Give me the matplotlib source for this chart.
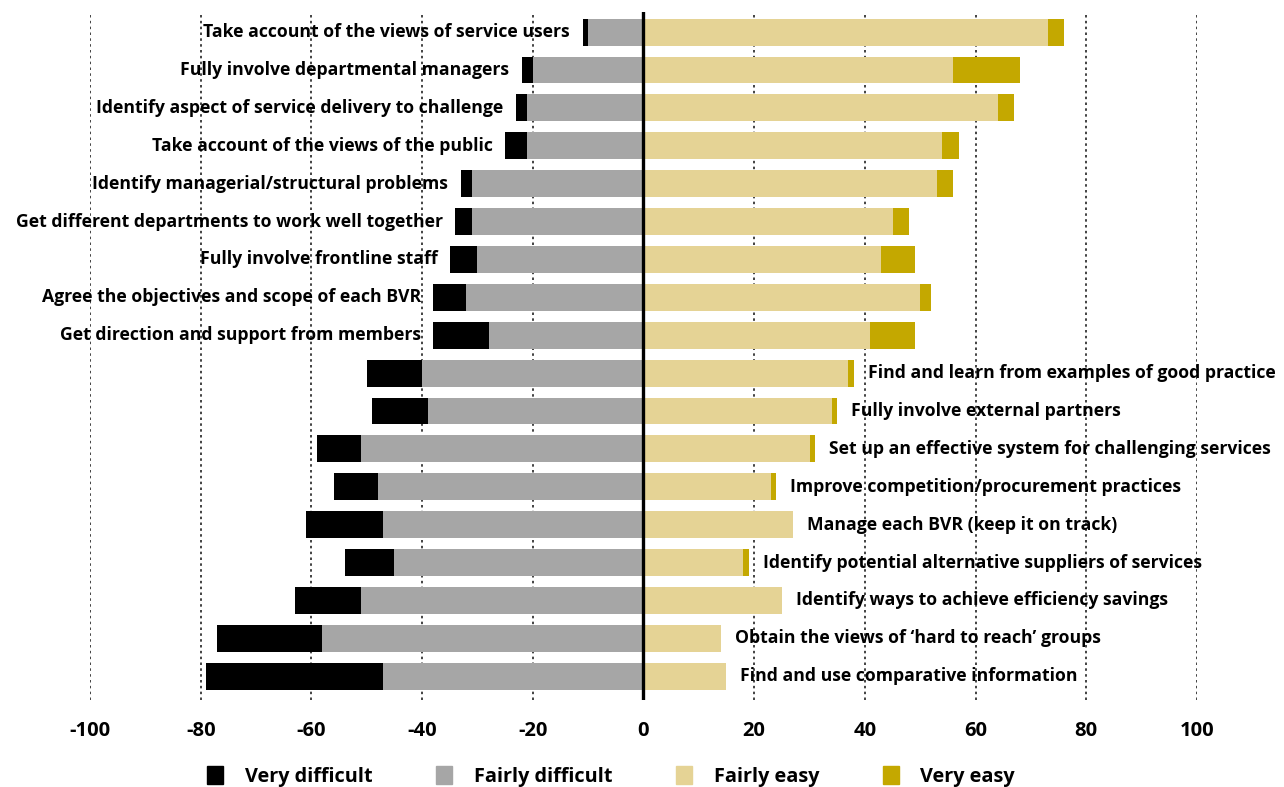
import numpy as np
import matplotlib
matplotlib.use("Agg")
import matplotlib.pyplot as plt
from matplotlib.patches import Patch

plt.rcParams['font.family'] = ['Open Sans', 'DejaVu Sans']

# 項目（上から順）
labels = [
    "Take account of the views of service users",
    "Fully involve departmental managers",
    "Identify aspect of service delivery to challenge",
    "Take account of the views of the public",
    "Identify managerial/structural problems",
    "Get different departments to work well together",
    "Fully involve frontline staff",
    "Agree the objectives and scope of each BVR",
    "Get direction and support from members",
    "Find and learn from examples of good practice",
    "Fully involve external partners",
    "Set up an effective system for challenging services",
    "Improve competition/procurement practices",
    "Manage each BVR (keep it on track)",
    "Identify potential alternative suppliers of services",
    "Identify ways to achieve efficiency savings",
    "Obtain the views of \u2018hard to reach\u2019 groups",
    "Find and use comparative information",
]

very_difficult = [1, 2, 2, 4, 2, 3, 5, 6, 10, 10, 10, 8, 8, 14, 9, 12, 19, 32]
fairly_difficult = [10, 20, 21, 21, 31, 31, 30, 32, 28, 40, 39, 51, 48, 47, 45, 51, 58, 47]
fairly_easy = [73, 56, 64, 54, 53, 45, 43, 50, 41, 37, 34, 30, 23, 27, 18, 25, 14, 15]
very_easy = [3, 12, 3, 3, 3, 3, 6, 2, 8, 1, 1, 1, 1, 0, 1, 0, 0, 0]

# 上の9項目はラベルを左側、残りは右側
n_left = 9

C_VD = "#000000"
C_FD = "#a6a6a6"
C_FE = "#e5d395"
C_VE = "#c4a800"

vd = np.array(very_difficult)
fd = np.array(fairly_difficult)
fe = np.array(fairly_easy)
ve = np.array(very_easy)
y = np.arange(len(labels))
h = 0.71

fig = plt.figure(figsize=(12.84, 7.87), dpi=100)
ax = fig.add_axes([0.0701, 0.1105, 0.8621, 0.8742])

# グリッド線
for gx in range(-100, 101, 20):
    if gx == 0:
        continue
    ax.axvline(gx, color="#222222", linestyle=(0, (1.5, 2.0)), linewidth=1.2, zorder=0)

ax.barh(y, -fd, height=h, color=C_FD, zorder=2)
ax.barh(y, -vd, left=-fd, height=h, color=C_VD, zorder=2)
ax.barh(y, fe, height=h, color=C_FE, zorder=2)
ax.barh(y, ve, left=fe, height=h, color=C_VE, zorder=2)
ax.axvline(0, color="black", linewidth=2.4, zorder=3)

# ラベル
for i, lab in enumerate(labels):
    if i < n_left:
        ax.annotate(lab, xy=(-(fd[i] + vd[i]), y[i]), xytext=(-9, 0),
                    textcoords="offset points", ha="right", va="center",
                    fontsize=12.7, fontweight="bold", annotation_clip=False)
    else:
        ax.annotate(lab, xy=(fe[i] + ve[i], y[i]), xytext=(10, 0),
                    textcoords="offset points", ha="left", va="center",
                    fontsize=12.7, fontweight="bold", annotation_clip=False)

ax.set_xlim(-100, 100)
ax.set_ylim(len(labels) - 1 + 0.63, -0.53)
ax.set_xticks(range(-100, 101, 20))
ax.set_xticklabels([str(v) for v in range(-100, 101, 20)], fontsize=14.5, fontweight="bold")
ax.tick_params(axis="x", length=0, pad=15)
ax.set_yticks([])
for s in ax.spines.values():
    s.set_visible(False)

handles = [Patch(color=C_VD), Patch(color=C_FD), Patch(color=C_FE), Patch(color=C_VE)]
names = ["Very difficult", "Fairly difficult", "Fairly easy", "Very easy"]
leg = fig.legend(handles, names, loc="center", bbox_to_anchor=(0.476, 0.013), ncol=4,
                 frameon=False, handlelength=0.8, handleheight=1.0, handletextpad=1.1,
                 columnspacing=3.2, prop={"weight": "bold", "size": 14.3})

fig.savefig("out.png", dpi=100)
